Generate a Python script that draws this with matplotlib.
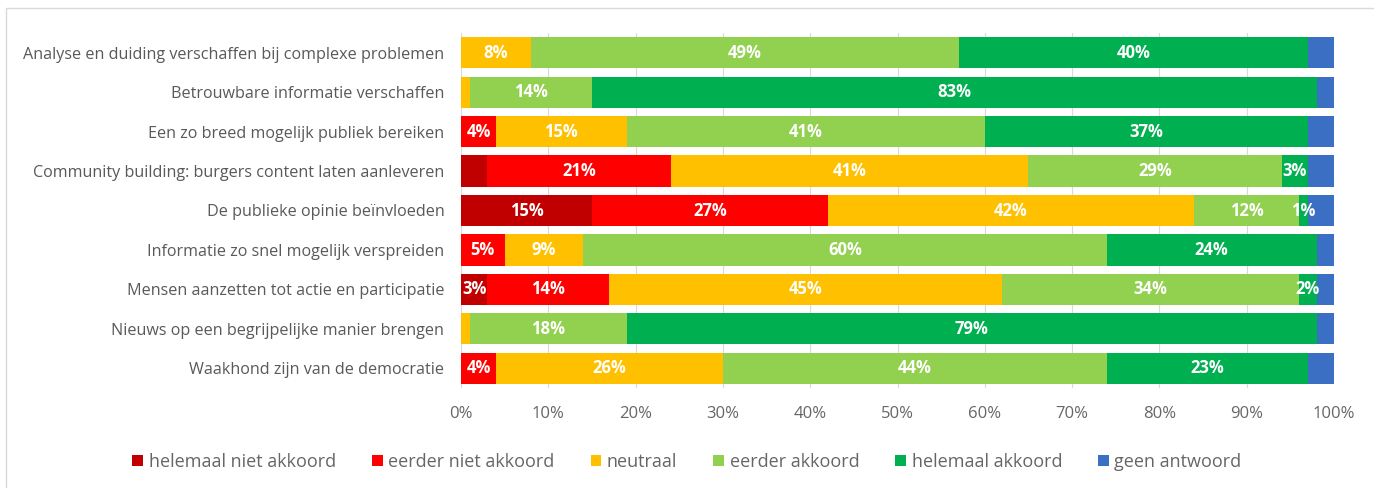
import numpy as np
import matplotlib.pyplot as plt
from matplotlib.patches import Rectangle

plt.rcParams['font.family'] = ['Open Sans', 'DejaVu Sans']

statements = [
    "Analyse en duiding verschaffen bij complexe problemen",
    "Betrouwbare informatie verschaffen",
    "Een zo breed mogelijk publiek bereiken",
    "Community building: burgers content laten aanleveren",
    "De publieke opinie beïnvloeden",
    "Informatie zo snel mogelijk verspreiden",
    "Mensen aanzetten tot actie en participatie",
    "Nieuws op een begrijpelijke manier brengen",
    "Waakhond zijn van de democratie",
]

answers = ["helemaal niet akkoord", "eerder niet akkoord", "neutraal",
           "eerder akkoord", "helemaal akkoord", "geen antwoord"]

helemaal_niet = [0, 0, 0, 3, 15, 0, 3, 0, 0]
eerder_niet = [0, 0, 4, 21, 27, 5, 14, 0, 4]
neutraal = [8, 1, 15, 41, 42, 9, 45, 1, 26]
eerder_akkoord = [49, 14, 41, 29, 12, 60, 34, 18, 44]
helemaal_akkoord = [40, 83, 37, 3, 1, 24, 2, 79, 23]
geen_antwoord = [3, 2, 3, 3, 3, 2, 2, 2, 3]

colors = ["#C00000", "#FF0000", "#FFC000", "#92D050", "#00B050", "#3A6FC4"]

# segments that carry no percentage label
unlabelled = {(3, 0), (1, 2), (7, 2)}

series = [helemaal_niet, eerder_niet, neutraal, eerder_akkoord,
          helemaal_akkoord, geen_antwoord]

fig = plt.figure(figsize=(13.74, 4.88), dpi=100)
ax = fig.add_axes([461 / 1374, 1 - 388 / 488, 873 / 1374, 355 / 488])

y = np.arange(len(statements))
left = np.zeros(len(statements))
for s, (vals, name, col) in enumerate(zip(series, answers, colors)):
    vals = np.array(vals, dtype=float)
    ax.barh(y, vals, left=left, height=0.79, color=col, label=name, zorder=2)
    if s < 5:
        for i, v in enumerate(vals):
            if v > 0 and (i, s) not in unlabelled:
                ax.text(left[i] + v / 2, y[i], f"{int(v)}%", ha="center",
                        va="center", color="white", fontsize=12,
                        fontweight="bold", zorder=3)
    left += vals

ax.set_xlim(0, 100)
ax.set_ylim(len(statements) - 0.5, -0.5)
ax.set_yticks(y)
ax.set_yticklabels(statements, fontsize=11.6, color="#595959")
ax.set_xticks(np.arange(0, 101, 10))
ax.set_xticklabels([f"{t}%" for t in range(0, 101, 10)], fontsize=12,
                   color="#666666")
ax.tick_params(axis="both", length=0)
ax.tick_params(axis="x", pad=13)
ax.tick_params(axis="y", pad=12)
ax.grid(axis="x", color="#D9D9D9", linewidth=0.8, zorder=0)
for sp in ax.spines.values():
    sp.set_visible(False)

fig.legend(loc="center", bbox_to_anchor=(0.5, 1 - 462 / 488), ncol=6,
           frameon=False, fontsize=13, labelcolor="#666666",
           handlelength=0.6, handleheight=0.6, handletextpad=0.3,
           columnspacing=2.0)

# outer chart border
fig.patches.append(Rectangle((6 / 1374, -0.1), 1.2, 1 - 8 / 488 + 0.1,
                             transform=fig.transFigure, fill=False,
                             edgecolor="#D9D9D9", linewidth=1.0))

fig.savefig("out.png", dpi=100)
